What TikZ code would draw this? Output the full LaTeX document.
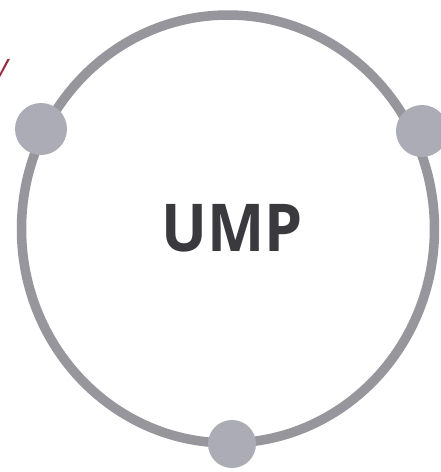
\documentclass[tikz,border=0pt]{standalone}
\usetikzlibrary{shapes.geometric}
\usepackage{fontspec}
\setmainfont{Open Sans}
\definecolor{ringgray}{RGB}{150,150,156}
\definecolor{dotgray}{RGB}{172,172,182}
\definecolor{textdark}{RGB}{58,58,62}
\definecolor{fragred}{RGB}{150,45,65}
\begin{document}
\begin{tikzpicture}[x=1pt,y=-1pt,
  ring/.style={draw=ringgray,line width=9.5pt},
  joint/.style={circle,fill=dotgray,draw=none,minimum size=52pt,inner sep=0pt},
  title/.style={font=\fontsize{66}{66}\selectfont\bfseries,text=textdark,inner sep=0pt}]
\useasboundingbox[fill=white] (0,0) rectangle (441,472);
\node[ring,ellipse,minimum width=413pt,minimum height=428pt,inner sep=0pt] (ring) at (228,229) {};
\node[joint] (left) at (41,129) {};
\node[joint] (right) at (422,131) {};
\node[joint,minimum size=48pt] (bottom) at (232,444) {};
\node[title,xscale=0.92] (ump) at (232,228) {UMP};
\node[font=\fontsize{30}{30}\selectfont\itshape,text=fragred,anchor=east,inner sep=0pt] (frag) at (9,71) {y};
\end{tikzpicture}
\end{document}
